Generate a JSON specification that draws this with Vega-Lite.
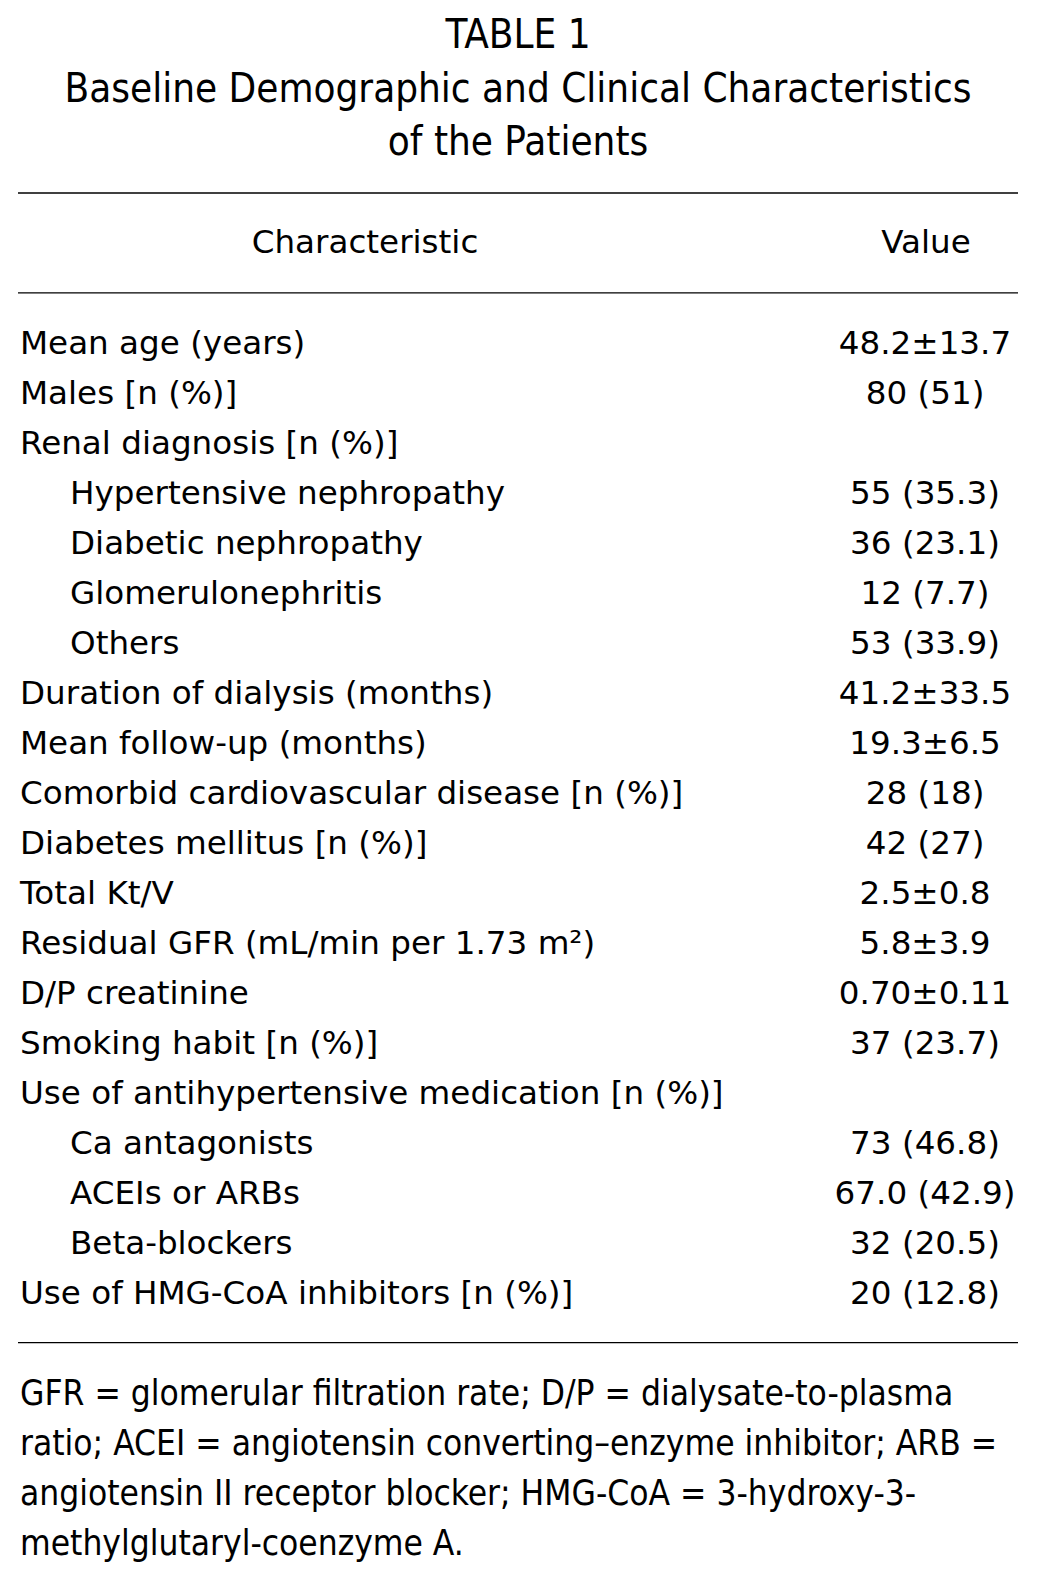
{
  "$schema": "https://vega.github.io/schema/vega-lite/v6.json",
  "width": 1000,
  "height": 1387,
  "autosize": {"type": "none"},
  "padding": {"left": 18, "top": 193, "right": 19, "bottom": 0},
  "background": "white",
  "config": {"view": {"stroke": null}},
  "title": {
    "text": ["TABLE 1", "Baseline Demographic and Clinical Characteristics", "of the Patients"],
    "anchor": "middle",
    "frame": "group",
    "font": "DejaVu Sans Condensed",
    "fontSize": 40,
    "fontWeight": "normal",
    "color": "black",
    "lineHeight": 53.5,
    "baseline": "bottom",
    "offset": -11
  },
  "datasets": {
    "rules": [{"line": -1}, {"line": 1}, {"line": 22}],
    "headers": [
      {"line": 0, "heading": "Characteristic"},
      {"line": 0, "heading": "Value"}
    ],
    "rows": [
      {"line": 2, "characteristic": "Mean age (years)", "value": "48.2±13.7", "indent": 0},
      {"line": 3, "characteristic": "Males [n (%)]", "value": "80 (51)", "indent": 0},
      {"line": 4, "characteristic": "Renal diagnosis [n (%)]", "value": "", "indent": 0},
      {"line": 5, "characteristic": "Hypertensive nephropathy", "value": "55 (35.3)", "indent": 1},
      {"line": 6, "characteristic": "Diabetic nephropathy", "value": "36 (23.1)", "indent": 1},
      {"line": 7, "characteristic": "Glomerulonephritis", "value": "12 (7.7)", "indent": 1},
      {"line": 8, "characteristic": "Others", "value": "53 (33.9)", "indent": 1},
      {"line": 9, "characteristic": "Duration of dialysis (months)", "value": "41.2±33.5", "indent": 0},
      {"line": 10, "characteristic": "Mean follow-up (months)", "value": "19.3±6.5", "indent": 0},
      {"line": 11, "characteristic": "Comorbid cardiovascular disease [n (%)]", "value": "28 (18)", "indent": 0},
      {"line": 12, "characteristic": "Diabetes mellitus [n (%)]", "value": "42 (27)", "indent": 0},
      {"line": 13, "characteristic": "Total Kt/V", "value": "2.5±0.8", "indent": 0},
      {"line": 14, "characteristic": "Residual GFR (mL/min per 1.73 m²)", "value": "5.8±3.9", "indent": 0},
      {"line": 15, "characteristic": "D/P creatinine", "value": "0.70±0.11", "indent": 0},
      {"line": 16, "characteristic": "Smoking habit [n (%)]", "value": "37 (23.7)", "indent": 0},
      {"line": 17, "characteristic": "Use of antihypertensive medication [n (%)]", "value": "", "indent": 0},
      {"line": 18, "characteristic": "Ca antagonists", "value": "73 (46.8)", "indent": 1},
      {"line": 19, "characteristic": "ACEIs or ARBs", "value": "67.0 (42.9)", "indent": 1},
      {"line": 20, "characteristic": "Beta-blockers", "value": "32 (20.5)", "indent": 1},
      {"line": 21, "characteristic": "Use of HMG-CoA inhibitors [n (%)]", "value": "20 (12.8)", "indent": 0}
    ],
    "notes": [
      {"line": 23, "note": "GFR = glomerular filtration rate; D/P = dialysate-to-plasma"},
      {"line": 24, "note": "ratio; ACEI = angiotensin converting–enzyme inhibitor; ARB ="},
      {"line": 25, "note": "angiotensin II receptor blocker; HMG-CoA = 3-hydroxy-3-"},
      {"line": 26, "note": "methylglutaryl-coenzyme A."}
    ]
  },
  "layer": [
    {
      "data": {"name": "rules"},
      "mark": {"type": "rule", "color": "black", "strokeWidth": 1.3},
      "encoding": {
        "y": {"field": "line", "type": "quantitative", "axis": null,
              "scale": {"domain": [-1, 26.75], "reverse": true, "nice": false, "zero": false}}
      }
    },
    {
      "data": {"name": "headers"},
      "transform": [{"filter": "datum.heading == 'Characteristic'"}],
      "mark": {"type": "text", "align": "center", "baseline": "alphabetic", "dx": 345, "dy": 10,
               "font": "DejaVu Sans", "fontSize": 32.6, "color": "black"},
      "encoding": {
        "x": {"datum": "Characteristic", "type": "nominal", "axis": null,
              "scale": {"type": "point", "domain": ["Characteristic", "Value"], "range": [2, 907], "padding": 0}},
        "y": {"field": "line", "type": "quantitative", "axis": null,
              "scale": {"domain": [-1, 26.75], "reverse": true, "nice": false, "zero": false}},
        "text": {"field": "heading"}
      }
    },
    {
      "data": {"name": "headers"},
      "transform": [{"filter": "datum.heading == 'Value'"}],
      "mark": {"type": "text", "align": "center", "baseline": "alphabetic", "dx": 1, "dy": 10,
               "font": "DejaVu Sans", "fontSize": 32.6, "color": "black"},
      "encoding": {
        "x": {"datum": "Value", "type": "nominal", "axis": null,
              "scale": {"type": "point", "domain": ["Characteristic", "Value"], "range": [2, 907], "padding": 0}},
        "y": {"field": "line", "type": "quantitative", "axis": null,
              "scale": {"domain": [-1, 26.75], "reverse": true, "nice": false, "zero": false}},
        "text": {"field": "heading"}
      }
    },
    {
      "data": {"name": "rows"},
      "transform": [{"filter": "datum.indent == 0"}],
      "mark": {"type": "text", "align": "left", "baseline": "alphabetic", "dx": 0, "dy": 11,
               "font": "DejaVu Sans", "fontSize": 32.6, "color": "black"},
      "encoding": {
        "x": {"datum": "Characteristic", "type": "nominal", "axis": null,
              "scale": {"type": "point", "domain": ["Characteristic", "Value"], "range": [2, 907], "padding": 0}},
        "y": {"field": "line", "type": "quantitative", "axis": null,
              "scale": {"domain": [-1, 26.75], "reverse": true, "nice": false, "zero": false}},
        "text": {"field": "characteristic"}
      }
    },
    {
      "data": {"name": "rows"},
      "transform": [{"filter": "datum.indent == 1"}],
      "mark": {"type": "text", "align": "left", "baseline": "alphabetic", "dx": 50, "dy": 11,
               "font": "DejaVu Sans", "fontSize": 32.6, "color": "black"},
      "encoding": {
        "x": {"datum": "Characteristic", "type": "nominal", "axis": null,
              "scale": {"type": "point", "domain": ["Characteristic", "Value"], "range": [2, 907], "padding": 0}},
        "y": {"field": "line", "type": "quantitative", "axis": null,
              "scale": {"domain": [-1, 26.75], "reverse": true, "nice": false, "zero": false}},
        "text": {"field": "characteristic"}
      }
    },
    {
      "data": {"name": "rows"},
      "mark": {"type": "text", "align": "center", "baseline": "alphabetic", "dy": 11,
               "font": "DejaVu Sans", "fontSize": 32.6, "color": "black"},
      "encoding": {
        "x": {"datum": "Value", "type": "nominal", "axis": null,
              "scale": {"type": "point", "domain": ["Characteristic", "Value"], "range": [2, 907], "padding": 0}},
        "y": {"field": "line", "type": "quantitative", "axis": null,
              "scale": {"domain": [-1, 26.75], "reverse": true, "nice": false, "zero": false}},
        "text": {"field": "value"}
      }
    },
    {
      "data": {"name": "notes"},
      "mark": {"type": "text", "align": "left", "baseline": "alphabetic", "dy": 12,
               "font": "DejaVu Sans Condensed", "fontSize": 35, "color": "black"},
      "encoding": {
        "x": {"datum": "Characteristic", "type": "nominal", "axis": null,
              "scale": {"type": "point", "domain": ["Characteristic", "Value"], "range": [2, 907], "padding": 0}},
        "y": {"field": "line", "type": "quantitative", "axis": null,
              "scale": {"domain": [-1, 26.75], "reverse": true, "nice": false, "zero": false}},
        "text": {"field": "note"}
      }
    }
  ]
}
